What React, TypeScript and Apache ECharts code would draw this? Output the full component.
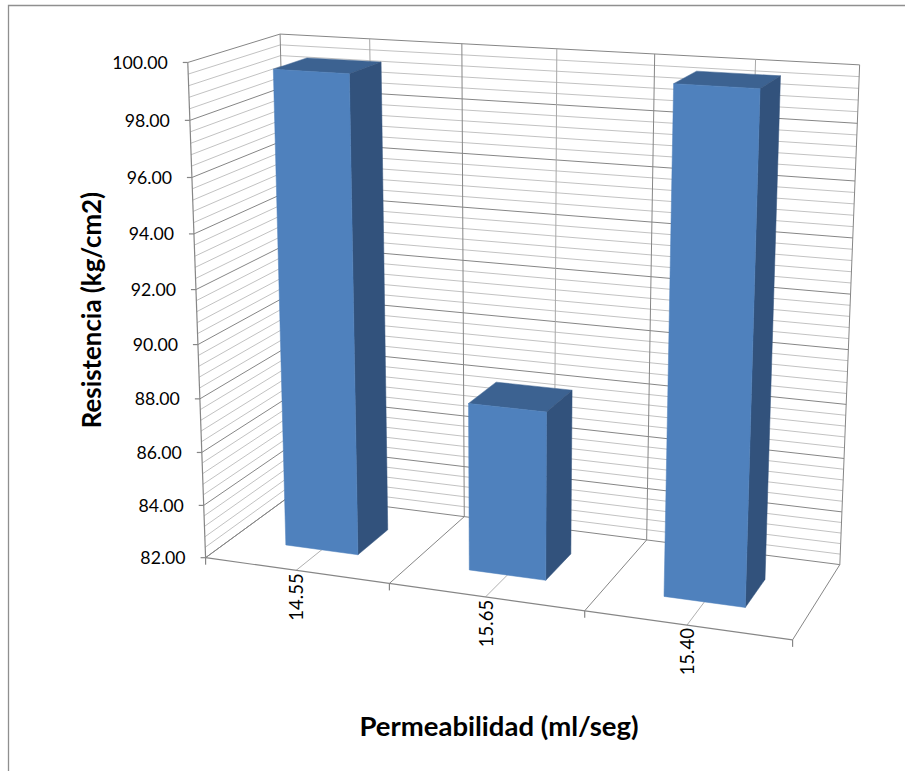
import React, { useEffect, useRef } from "react";
import * as echarts from "echarts";

// ---------- data ----------
const categories = ["14.55", "15.65", "15.40"];
const resistencia = [99.56, 88.2, 99.86];
const yMin = 82;
const yMax = 100;
const yMinorStep = 0.4;
const yTickValues = [82, 84, 86, 88, 90, 92, 94, 96, 98, 100];
const yTickLabels = ["82.00", "84.00", "86.00", "88.00", "90.00", "92.00", "94.00", "96.00", "98.00", "100.00"];
const xTitle = "Permeabilidad (ml/seg)";
const yTitle = "Resistencia (kg/cm2)";

// ---------- layout ----------
const W = 905;
const H = 771;
const GW = 600; // hidden reference grid (library scales)
const GH = 600;
// perspective calibration of the plot box: [u (category), v (value), w (depth), screenX, screenY]
const BOX_REF: number[][] = [
  [0, 0, 0, 206, 559],
  [0, 1, 0, 187, 62],
  [0, 0, 1, 291, 492],
  [0, 1, 1, 280, 35],
  [1, 0, 1, 840, 567],
  [1, 1, 1, 859, 64],
  [1, 0, 0, 792, 638],
  [1 / 3, 0, 0, 390, 585],
  [2 / 3, 0, 0, 585, 610],
  [1 / 3, 1, 1, 463, 44],
  [2 / 3, 1, 1, 655, 54],
];
const BAR_WIDTH = 0.4;
const BAR_W0 = 0.3;
const BAR_W1 = 0.68;
const FONT = "Lato, 'Open Sans', sans-serif";

function fitProjection() {
  const sx = 450;
  const sy = 385;
  const A: number[][] = [];
  const b: number[] = [];
  for (const [X, Y, Z, px, py] of BOX_REF) {
    const x = (px - sx) / sx;
    const y = (py - sy) / sy;
    A.push([X, Y, Z, 1, 0, 0, 0, 0, -x * X, -x * Y, -x * Z]);
    b.push(x);
    A.push([0, 0, 0, 0, X, Y, Z, 1, -y * X, -y * Y, -y * Z]);
    b.push(y);
  }
  const n = 11;
  const M: number[][] = Array.from({ length: n }, () => new Array(n + 1).fill(0));
  for (let r = 0; r < A.length; r++) {
    for (let i = 0; i < n; i++) {
      for (let j = 0; j < n; j++) M[i][j] += A[r][i] * A[r][j];
      M[i][n] += A[r][i] * b[r];
    }
  }
  for (let c = 0; c < n; c++) {
    let p = c;
    for (let r = c + 1; r < n; r++) if (Math.abs(M[r][c]) > Math.abs(M[p][c])) p = r;
    const tmp = M[c];
    M[c] = M[p];
    M[p] = tmp;
    for (let r = 0; r < n; r++) {
      if (r === c) continue;
      const f = M[r][c] / M[c][c];
      for (let k = c; k <= n; k++) M[r][k] -= f * M[c][k];
    }
  }
  const q = M.map((row, i) => row[n] / row[i]);
  return (u: number, v: number, w: number): [number, number] => {
    const d = q[8] * u + q[9] * v + q[10] * w + 1;
    return [
      ((q[0] * u + q[1] * v + q[2] * w + q[3]) / d) * sx + sx,
      ((q[4] * u + q[5] * v + q[6] * w + q[7]) / d) * sy + sy,
    ];
  };
}

const project = fitProjection();
const vOf = (val: number) => (val - yMin) / (yMax - yMin);

function buildFrame() {
  const els: any[] = [];
  els.push({
    type: "rect",
    silent: true,
    shape: { x: 8.5, y: 5.5, width: 1200, height: 1200 },
    style: { fill: "#ffffff", stroke: "#8f8f8f", lineWidth: 1.3 },
    z: -10,
  });
  const line = (a: number[], c: number[], stroke: string, lw = 1) =>
    els.push({
      type: "line",
      silent: true,
      shape: { x1: a[0], y1: a[1], x2: c[0], y2: c[1] },
      style: { stroke, lineWidth: lw },
    });
  const nMinor = Math.round((yMax - yMin) / yMinorStep);
  const MINOR = "#c2c2c2";
  const MAJOR = "#868686";
  for (const pass of [0, 1]) {
    for (let k = 0; k <= nMinor; k++) {
      const major = k % 5 === 0;
      if ((pass === 1) !== major) continue;
      const v = vOf(yMin + k * yMinorStep);
      const col = major ? MAJOR : MINOR;
      line(project(0, v, 0), project(0, v, 1), col);
      line(project(0, v, 1), project(1, v, 1), col);
    }
  }
  for (let k = 0; k <= 6; k++) {
    const u = k / 6;
    line(project(u, 0, 1), project(u, 1, 1), k % 2 === 0 ? MAJOR : "#a8a8a8");
    line(project(u, 0, 0), project(u, 0, 1), k % 2 === 0 ? MAJOR : "#b0b0b0");
  }
  line(project(0, 0, 0), project(1, 0, 0), MAJOR, 1.2);
  line(project(0, 0, 0), project(0, 1, 0), MAJOR, 1.2);
  for (let k = 0; k <= 3; k++) {
    const p = project(k / 3, 0, 0);
    line(p, [p[0], p[1] + 7], MAJOR, 1.2);
  }
  yTickValues.forEach((val, i) => {
    const p = project(0, vOf(val), 0);
    line([p[0] - 5, p[1]], p, MAJOR, 1.2);
    els.push({
      type: "text",
      silent: true,
      x: p[0] - 20,
      y: p[1],
      style: {
        text: yTickLabels[i],
        align: "right",
        verticalAlign: "middle",
        fontFamily: FONT,
        fontSize: 17.7,
        fill: "#000000",
      },
    });
  });
  categories.forEach((cat, i) => {
    const p = project((i + 0.5) / categories.length, 0, 0);
    els.push({
      type: "text",
      silent: true,
      x: p[0],
      y: p[1] + 3,
      rotation: Math.PI / 2,
      style: {
        text: cat,
        align: "right",
        verticalAlign: "middle",
        fontFamily: FONT,
        fontSize: 18.5,
        fill: "#000000",
      },
    });
  });
  els.push({
    type: "text",
    silent: true,
    x: 91,
    y: 310,
    rotation: Math.PI / 2,
    style: {
      text: yTitle,
      align: "center",
      verticalAlign: "middle",
      fontFamily: FONT,
      fontWeight: "bold",
      fontSize: 25.8,
      fill: "#000000",
    },
  });
  els.push({
    type: "text",
    silent: true,
    x: 499,
    y: 725,
    style: {
      text: xTitle,
      align: "center",
      verticalAlign: "middle",
      fontFamily: FONT,
      fontWeight: "bold",
      fontSize: 27.5,
      fill: "#000000",
    },
  });
  return els;
}

export default function App() {
  const ref = useRef<HTMLDivElement>(null);
  useEffect(() => {
    document.body.style.margin = "0";
    if (!ref.current) return;
    const chart = echarts.init(ref.current, undefined, { renderer: "svg" });
    chart.setOption({
      animation: false,
      backgroundColor: "#ffffff",
      grid: { left: 0, top: 0, width: GW, height: GH, show: false },
      xAxis: { type: "category", data: categories, show: false },
      yAxis: { type: "value", min: yMin, max: yMax, show: false },
      graphic: { elements: buildFrame() },
      series: [
        {
          type: "custom",
          clip: false,
          data: resistencia.map((v, i) => [i, v]),
          renderItem: (_params: any, api: any) => {
            const i = api.value(0);
            const val = api.value(1);
            const top = api.coord([i, val]);
            const base = api.coord([i, yMin]);
            const cw = api.size([1, 0])[0];
            const uc = top[0] / GW;
            const hw = (BAR_WIDTH * cw) / GW / 2;
            const u0 = uc - hw;
            const u1 = uc + hw;
            const v1 = 1 - top[1] / GH;
            const v0 = 1 - base[1] / GH;
            const w0 = BAR_W0;
            const w1 = BAR_W1;
            const poly = (pts: number[][], fill: string) => ({
              type: "polygon",
              shape: { points: pts },
              style: { fill, stroke: fill, lineWidth: 0.5 },
            });
            return {
              type: "group",
              children: [
                poly(
                  [project(u0, v1, w0), project(u1, v1, w0), project(u1, v1, w1), project(u0, v1, w1)],
                  "#3c6291"
                ),
                poly(
                  [project(u1, v0, w0), project(u1, v1, w0), project(u1, v1, w1), project(u1, v0, w1)],
                  "#32527c"
                ),
                poly(
                  [project(u0, v0, w0), project(u1, v0, w0), project(u1, v1, w0), project(u0, v1, w0)],
                  "#4f81bd"
                ),
              ],
            };
          },
        },
      ],
    });
    return () => chart.dispose();
  }, []);
  return <div ref={ref} style={{ width: W, height: H }} />;
}
